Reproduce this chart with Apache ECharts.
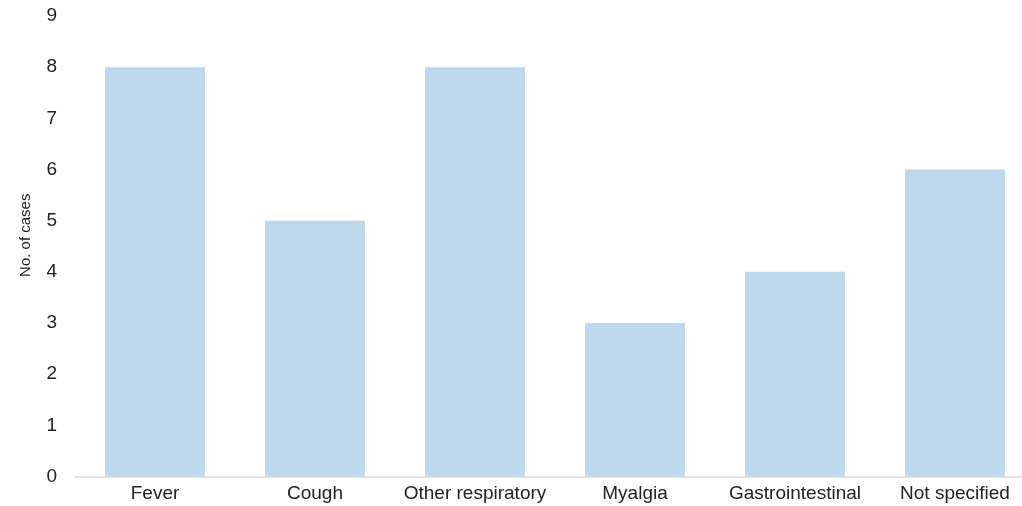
<!DOCTYPE html>
<html>
<head>
<meta charset="utf-8">
<script src="https://cdn.jsdelivr.net/npm/echarts@6/dist/echarts.min.js"></script>
<style>
html,body{margin:0;padding:0;background:#fff;}
#chart{width:1022px;height:506px;}
</style>
</head>
<body>
<div id="chart"></div>
<script>
const categories = ['Fever', 'Cough', 'Other respiratory', 'Myalgia', 'Gastrointestinal', 'Not specified'];
const cases = [8, 5, 8, 3, 4, 6];
const yAxisName = 'No. of cases';

const font = 'Liberation Sans, Arial, Helvetica, sans-serif';
const chart = echarts.init(document.getElementById('chart'), null, {renderer: 'canvas'});
chart.setOption({
  animation: false,
  grid: {left: 75, right: -13, top: 16, bottom: 29.5, containLabel: false, outerBoundsMode: 'none'},
  xAxis: {
    type: 'category',
    data: categories,
    axisLine: {show: true, lineStyle: {color: '#d9d9d9', width: 1.5}},
    axisTick: {show: false},
    axisLabel: {color: '#222', fontSize: 19, fontFamily: font, margin: 8, interval: 0, hideOverlap: false}
  },
  yAxis: {
    type: 'value',
    min: 0, max: 9, interval: 1,
    name: yAxisName,
    nameLocation: 'middle',
    nameGap: 42,
    nameTextStyle: {color: '#222', fontSize: 15, fontFamily: font, padding: [0, 0, 0, 22]},
    axisLine: {show: false},
    axisTick: {show: false},
    splitLine: {show: false},
    axisLabel: {color: '#222', fontSize: 19, fontFamily: font, margin: 18}
  },
  series: [{
    type: 'bar',
    data: cases,
    barWidth: 100,
    itemStyle: {color: '#bdd7ee'}
  }]
});
</script>
</body>
</html>
